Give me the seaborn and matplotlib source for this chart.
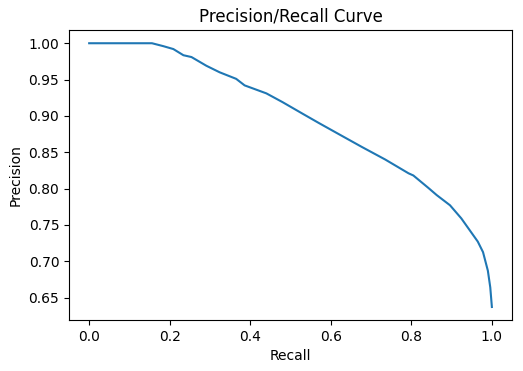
import numpy as np
import pandas as pd
import matplotlib
matplotlib.use("Agg")
import matplotlib.pyplot as plt
import seaborn as sns

# values
recall = [0.0, 0.05, 0.10, 0.156, 0.184, 0.209, 0.234, 0.254, 0.291, 0.324,
          0.365, 0.386, 0.44, 0.48, 0.53, 0.571, 0.6325, 0.678, 0.735, 0.793,
          0.805, 0.842, 0.863, 0.896, 0.924, 0.965, 0.978, 0.99, 0.996, 1.0]
precision = [1.0, 1.0, 1.0, 1.0, 0.996, 0.992, 0.9835, 0.981, 0.969, 0.960,
             0.951, 0.942, 0.931, 0.919, 0.903, 0.890, 0.871, 0.857, 0.840, 0.821,
             0.818, 0.801, 0.791, 0.777, 0.759, 0.727, 0.7125, 0.687, 0.664, 0.637]

df = pd.DataFrame({"Recall": recall, "Precision": precision})

fig, ax = plt.subplots(figsize=(5.23, 3.71), dpi=100)
fig.subplots_adjust(left=0.132, right=0.979, bottom=0.137, top=0.919)
sns.lineplot(data=df, x="Recall", y="Precision", ax=ax, color="#1f77b4", sort=False)
ax.set_title("Precision/Recall Curve")
ax.set_xlabel("Recall")
ax.set_ylabel("Precision")
fig.savefig("out.png", dpi=100)
